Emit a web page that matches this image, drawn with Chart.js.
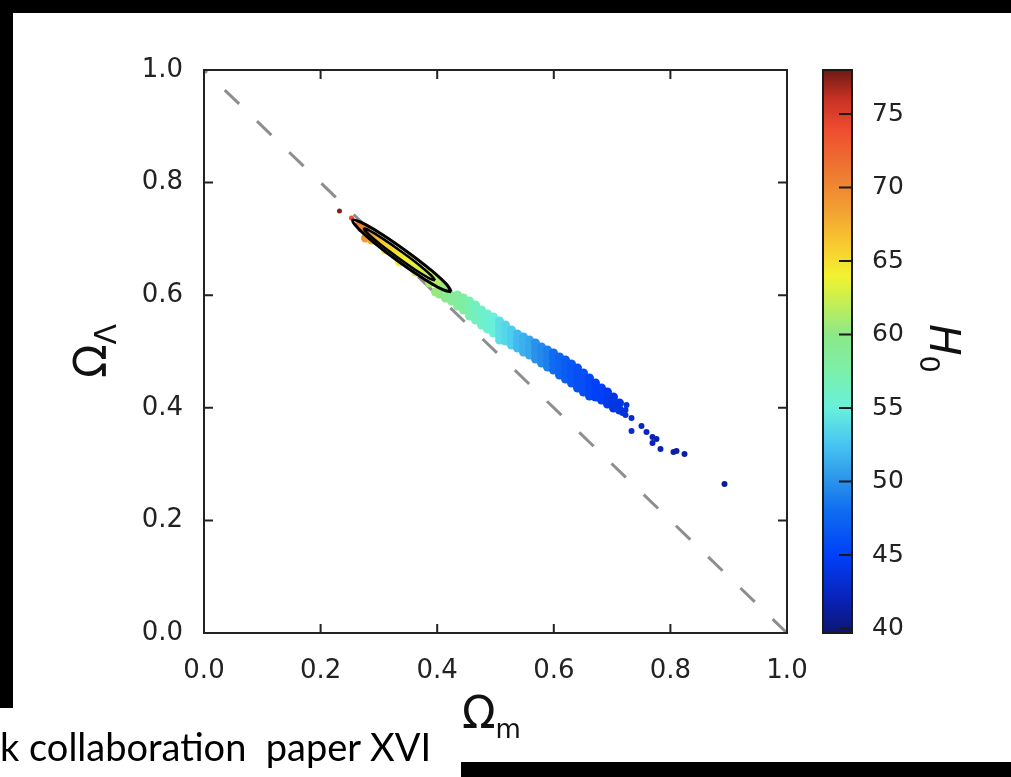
<!DOCTYPE html>
<html>
<head>
<meta charset="utf-8">
<script src="https://cdn.jsdelivr.net/npm/chart.js@4.4.1/dist/chart.umd.min.js"></script>
<style>
  html, body { margin: 0; padding: 0; background: #fff; }
  body { width: 1011px; height: 777px; position: relative; overflow: hidden; }
  #planckChart { position: absolute; left: 0; top: 0; }
  .bar { position: absolute; background: #000; }
  #credit {
    position: absolute; left: 0; top: 727px;
    font: 38px/38px Lato, "DejaVu Sans Condensed", sans-serif;
    white-space: pre; transform-origin: 0 0; color: #000;
  }
</style>
</head>
<body>
<canvas id="planckChart" width="1011" height="777"></canvas>
<div class="bar" style="left:0;top:0;width:1011px;height:13px"></div>
<div class="bar" style="left:0;top:0;width:13px;height:708px"></div>
<div class="bar" style="left:461px;top:762px;width:550px;height:15px"></div>
<div id="credit">k collaboration  paper XVI</div>

<script>
// samples are [Omega_m, Omega_Lambda, H0]
const coreSamples = [
  [0.2324, 0.7496, 77.5], [0.2530, 0.7371, 74], [0.2633, 0.7265, 72],
  [0.2702, 0.7194, 70.5], [0.2770, 0.7194, 70], [0.2804, 0.7087, 69],
  [0.2770, 0.7016, 69], [0.2907, 0.7052, 68], [0.2873, 0.6980, 68],
  [0.2976, 0.6963, 67], [0.3079, 0.6909, 66], [0.3113, 0.6803, 65],
  [0.3182, 0.6856, 65.5], [0.3285, 0.6767, 65], [0.3388, 0.6696, 64.5],
  [0.3353, 0.6590, 64], [0.3491, 0.6643, 64], [0.3593, 0.6554, 63.5],
  [0.3628, 0.6412, 62.5], [0.3696, 0.6483, 63], [0.3799, 0.6412, 62.5],
  [0.3868, 0.6217, 61], [0.3902, 0.6323, 62], [0.4005, 0.6252, 61.5],
  [0.4108, 0.6163, 60.5], [0.4039, 0.6021, 60], [0.3971, 0.6057, 60.5],
  [0.4142, 0.5950, 59.5], [0.4177, 0.6092, 60], [0.4245, 0.5986, 59]
];

const bandSamples = [
  [0.4245, 0.5897, 59],
  [0.4348, 0.6004, 58.5], [0.4348, 0.5915, 58.5], [0.4348, 0.5808, 58.5],
  [0.4451, 0.5950, 58], [0.4451, 0.5844, 58], [0.4451, 0.5737, 58],
  [0.4554, 0.5897, 57], [0.4554, 0.5808, 57], [0.4554, 0.5719, 57], [0.4554, 0.5631, 57],
  [0.4657, 0.5826, 56.5], [0.4657, 0.5737, 56.5], [0.4657, 0.5648, 56.5], [0.4657, 0.5560, 56.5],
  [0.4760, 0.5737, 56], [0.4760, 0.5648, 56], [0.4760, 0.5560, 56], [0.4760, 0.5471, 56],
  [0.4863, 0.5666, 55.5], [0.4863, 0.5577, 55.5], [0.4863, 0.5488, 55.5], [0.4863, 0.5400, 55.5],
  [0.4966, 0.5613, 55], [0.4966, 0.5524, 55], [0.4966, 0.5435, 55], [0.4966, 0.5329, 55],
  [0.5069, 0.5542, 54], [0.5069, 0.5453, 54], [0.5069, 0.5364, 54], [0.5069, 0.5275, 54], [0.5069, 0.5204, 54],
  [0.5172, 0.5471, 53.5], [0.5172, 0.5382, 53.5], [0.5172, 0.5293, 53.5], [0.5172, 0.5187, 53.5],
  [0.5274, 0.5382, 53], [0.5274, 0.5293, 53], [0.5274, 0.5204, 53], [0.5274, 0.5115, 53],
  [0.5377, 0.5311, 52], [0.5377, 0.5222, 52], [0.5377, 0.5133, 52], [0.5377, 0.5062, 52],
  [0.5480, 0.5258, 51.5], [0.5480, 0.5169, 51.5], [0.5480, 0.5080, 51.5], [0.5480, 0.4991, 51.5],
  [0.5583, 0.5204, 51], [0.5583, 0.5115, 51], [0.5583, 0.5027, 51], [0.5583, 0.4938, 51],
  [0.5686, 0.5151, 50], [0.5686, 0.5062, 50], [0.5686, 0.4973, 50], [0.5686, 0.4867, 50],
  [0.5789, 0.5080, 49.5], [0.5789, 0.4991, 49.5], [0.5789, 0.4902, 49.5], [0.5789, 0.4796, 49.5],
  [0.5892, 0.5027, 49], [0.5892, 0.4938, 49], [0.5892, 0.4831, 49], [0.5892, 0.4725, 49],
  [0.5995, 0.4973, 48], [0.5995, 0.4885, 48], [0.5995, 0.4778, 48], [0.5995, 0.4671, 48],
  [0.6098, 0.4902, 47.5], [0.6098, 0.4813, 47.5], [0.6098, 0.4707, 47.5], [0.6098, 0.4583, 47.5],
  [0.6201, 0.4849, 47], [0.6201, 0.4742, 47], [0.6201, 0.4636, 47], [0.6201, 0.4512, 47],
  [0.6304, 0.4778, 46.5], [0.6304, 0.4671, 46.5], [0.6304, 0.4565, 46.5], [0.6304, 0.4440, 46.5],
  [0.6407, 0.4707, 46], [0.6407, 0.4600, 46], [0.6407, 0.4476, 46], [0.6407, 0.4352, 46],
  [0.6509, 0.4618, 46], [0.6509, 0.4512, 46], [0.6509, 0.4405, 46], [0.6509, 0.4281, 46],
  [0.6612, 0.4529, 45.5], [0.6612, 0.4423, 45.5], [0.6612, 0.4316, 45.5], [0.6612, 0.4210, 45.5],
  [0.6715, 0.4440, 45], [0.6715, 0.4334, 45], [0.6715, 0.4192, 45],
  [0.6818, 0.4352, 45], [0.6818, 0.4245, 45], [0.6818, 0.4139, 45],
  [0.6921, 0.4281, 44.5], [0.6921, 0.4174, 44.5], [0.6921, 0.4067, 44.5],
  [0.7024, 0.4192, 44], [0.7024, 0.4085, 44], [0.7024, 0.3996, 44],
  [0.7127, 0.4085, 44], [0.7127, 0.3961, 44],
  [0.7230, 0.3961, 43.5], [0.7230, 0.3872, 43.5]
];

const tailSamples = [
  [0.7247, 0.4050, 43.5], [0.7178, 0.3908, 43.5], [0.7333, 0.3819, 43],
  [0.7333, 0.3588, 43], [0.7504, 0.3677, 42.5], [0.7590, 0.3570, 42.5],
  [0.7693, 0.3481, 42], [0.7762, 0.3446, 42], [0.7693, 0.3375, 42],
  [0.7830, 0.3268, 42], [0.8053, 0.3215, 41.5], [0.8105, 0.3233, 41.5],
  [0.8242, 0.3179, 41.5], [0.8928, 0.2647, 41]
];

// 68% and 95% contours, [Omega_m, Omega_Lambda]
const innerContour = [
  [0.3964, 0.6263], [0.3865, 0.6300], [0.3628, 0.6449], [0.3317, 0.6673],
  [0.3017, 0.6908], [0.2808, 0.7096], [0.2743, 0.7183], [0.2842, 0.7146],
  [0.3079, 0.6996], [0.3389, 0.6773], [0.3690, 0.6538], [0.3899, 0.6350],
  [0.3964, 0.6263]
];
const outerContour = [
  [0.4242, 0.6059], [0.4096, 0.6099], [0.3763, 0.6297], [0.3331, 0.6602],
  [0.2916, 0.6933], [0.2631, 0.7201], [0.2551, 0.7334], [0.2696, 0.7293],
  [0.3029, 0.7096], [0.3461, 0.6790], [0.3877, 0.6460], [0.4161, 0.6192],
  [0.4242, 0.6059]
];

// flat universe, Omega_m + Omega_Lambda = 1
const flatLine = [[1, 0], [0, 1]];

const h0Range = [39.7, 78];
const h0Ticks = [40, 45, 50, 55, 60, 65, 70, 75];

const h0Stops = [
  [39.7, '#0b1670'], [42, '#0a22b8'], [45, '#0040f8'], [48, '#0f6cf0'],
  [50, '#2a92ea'], [52.5, '#48c4f2'], [55, '#68f0dc'], [57.5, '#7cf0aa'],
  [60, '#8ce888'], [62, '#c0ee58'], [64, '#f2f22e'], [66, '#f8cc30'],
  [68.5, '#f2a032'], [71, '#ee7a32'], [74, '#ee4c30'], [76, '#c83224'],
  [78, '#6e1a12']
];

function hexToRgb(h) {
  const n = parseInt(h.slice(1), 16);
  return [(n >> 16) & 255, (n >> 8) & 255, n & 255];
}

function h0Color(h) {
  if (h <= h0Stops[0][0]) return h0Stops[0][1];
  for (let i = 1; i < h0Stops.length; i++) {
    const [v1, c1] = h0Stops[i];
    if (h <= v1) {
      const [v0, c0] = h0Stops[i - 1];
      const t = (h - v0) / (v1 - v0);
      const a = hexToRgb(c0), b = hexToRgb(c1);
      const mix = a.map((v, k) => Math.round(v + (b[k] - v) * t));
      return `rgb(${mix[0]}, ${mix[1]}, ${mix[2]})`;
    }
  }
  return h0Stops[h0Stops.length - 1][1];
}

// stray samples at either end are drawn smaller than the dense band
function sampleRadius(h) {
  if (h >= 72) return 2.5;
  if (h <= 43.5) return 3;
  return 4.5;
}

const toPoints = rows => rows.map(r => ({ x: r[0], y: r[1], h: r[2] }));

const tickFont = { family: 'DejaVu Sans', size: 26 };

// draw a symbol with a lowered subscript at the current origin
function drawSub(ctx, main, sub, mainFont, subFont, drop) {
  ctx.font = mainFont;
  ctx.fillText(main, 0, 0);
  const w = ctx.measureText(main).width;
  ctx.font = subFont;
  ctx.fillText(sub, w, drop);
}

const framePlugin = {
  id: 'frame',
  afterDatasetsDraw(chart) {
    const { ctx, chartArea: a, scales: { x, y } } = chart;
    const len = 9;
    ctx.save();
    ctx.strokeStyle = '#222';
    ctx.lineWidth = 2;
    ctx.beginPath();
    x.ticks.forEach(t => {
      const px = x.getPixelForValue(t.value);
      ctx.moveTo(px, a.bottom); ctx.lineTo(px, a.bottom - len);
      ctx.moveTo(px, a.top); ctx.lineTo(px, a.top + len);
    });
    y.ticks.forEach(t => {
      const py = y.getPixelForValue(t.value);
      ctx.moveTo(a.left, py); ctx.lineTo(a.left + len, py);
      ctx.moveTo(a.right, py); ctx.lineTo(a.right - len, py);
    });
    ctx.stroke();
    ctx.strokeRect(a.left, a.top, a.right - a.left, a.bottom - a.top);
    ctx.restore();
  },
  afterDraw(chart) {
    const { ctx, chartArea: a } = chart;
    ctx.save();
    ctx.fillStyle = '#111';
    ctx.textAlign = 'left';
    ctx.textBaseline = 'alphabetic';

    // x title
    ctx.save();
    ctx.translate(462, 728);
    drawSub(ctx, 'Ω', 'm', '44px "DejaVu Sans"', '26px "DejaVu Sans"', 10);
    ctx.restore();

    // y title
    ctx.save();
    ctx.translate(106, 378);
    ctx.rotate(-Math.PI / 2);
    drawSub(ctx, 'Ω', 'Λ', '44px "DejaVu Sans"', '30px "DejaVu Sans"', 10);
    ctx.restore();

    // colour bar for H0
    const bx = a.right + 36, bw = 29;
    const top = a.top, bottom = a.bottom;
    const toPx = h => bottom - (h - h0Range[0]) / (h0Range[1] - h0Range[0]) * (bottom - top);
    const grad = ctx.createLinearGradient(0, bottom, 0, top);
    h0Stops.forEach(([v, c]) => {
      grad.addColorStop((v - h0Range[0]) / (h0Range[1] - h0Range[0]), c);
    });
    ctx.fillStyle = grad;
    ctx.fillRect(bx, top, bw, bottom - top);
    ctx.strokeStyle = '#1a1a1a';
    ctx.lineWidth = 2;
    ctx.strokeRect(bx, top, bw, bottom - top);
    ctx.beginPath();
    h0Ticks.forEach(h => {
      const py = toPx(h);
      ctx.moveTo(bx + bw, py);
      ctx.lineTo(bx + bw - 13, py);
    });
    ctx.stroke();

    ctx.fillStyle = '#222';
    ctx.font = '25px "DejaVu Sans"';
    ctx.textBaseline = 'middle';
    h0Ticks.forEach(h => ctx.fillText(String(h), bx + bw + 20, toPx(h)));

    // H0 label, reading downward
    ctx.fillStyle = '#111';
    ctx.textBaseline = 'alphabetic';
    ctx.translate(930, 324);
    ctx.rotate(Math.PI / 2);
    drawSub(ctx, 'H', '0', 'italic 42px "DejaVu Sans"', '27px "DejaVu Sans"', 10);
    ctx.restore();
  }
};

new Chart(document.getElementById('planckChart'), {
  type: 'scatter',
  data: {
    datasets: [
      {
        label: '95%',
        data: outerContour.map(p => ({ x: p[0], y: p[1] })),
        showLine: true,
        borderColor: '#000',
        borderWidth: 3,
        pointRadius: 0,
        tension: 0.4,
        order: 0
      },
      {
        label: '68%',
        data: innerContour.map(p => ({ x: p[0], y: p[1] })),
        showLine: true,
        borderColor: '#000',
        borderWidth: 2.5,
        pointRadius: 0,
        tension: 0.4,
        order: 0
      },
      {
        label: 'samples',
        data: toPoints(coreSamples.concat(bandSamples, tailSamples)),
        pointRadius: c => (c.raw ? sampleRadius(c.raw.h) : 3),
        pointBorderWidth: 0,
        pointBackgroundColor: c => (c.raw ? h0Color(c.raw.h) : '#000'),
        pointBorderColor: 'rgba(0,0,0,0)',
        order: 1
      },
      {
        label: 'flat',
        data: flatLine.map(p => ({ x: p[0], y: p[1] })),
        showLine: true,
        borderColor: '#8e8e8e',
        borderWidth: 3,
        borderDash: [20, 24.8],
        pointRadius: 0,
        order: 2
      }
    ]
  },
  options: {
    responsive: false,
    devicePixelRatio: 1,
    animation: false,
    layout: { padding: { left: 0, right: 224, top: 70, bottom: 84 } },
    plugins: { legend: { display: false }, tooltip: { enabled: false } },
    scales: {
      x: {
        type: 'linear', min: 0, max: 1,
        grid: { display: false, drawTicks: false },
        border: { display: false },
        ticks: { stepSize: 0.2, font: tickFont, color: '#222', padding: 23,
                 callback: v => v.toFixed(1) },
        afterFit: s => { s.height = 60; }
      },
      y: {
        type: 'linear', min: 0, max: 1,
        grid: { display: false, drawTicks: false },
        border: { display: false },
        ticks: { stepSize: 0.2, font: tickFont, color: '#222', padding: 21,
                 callback: v => v.toFixed(1) },
        afterFit: s => { s.width = 204; }
      }
    }
  },
  plugins: [framePlugin]
});

const credit = document.getElementById('credit');
credit.style.transform = 'scaleX(' + (431 / credit.offsetWidth) + ')';
</script>
</body>
</html>
